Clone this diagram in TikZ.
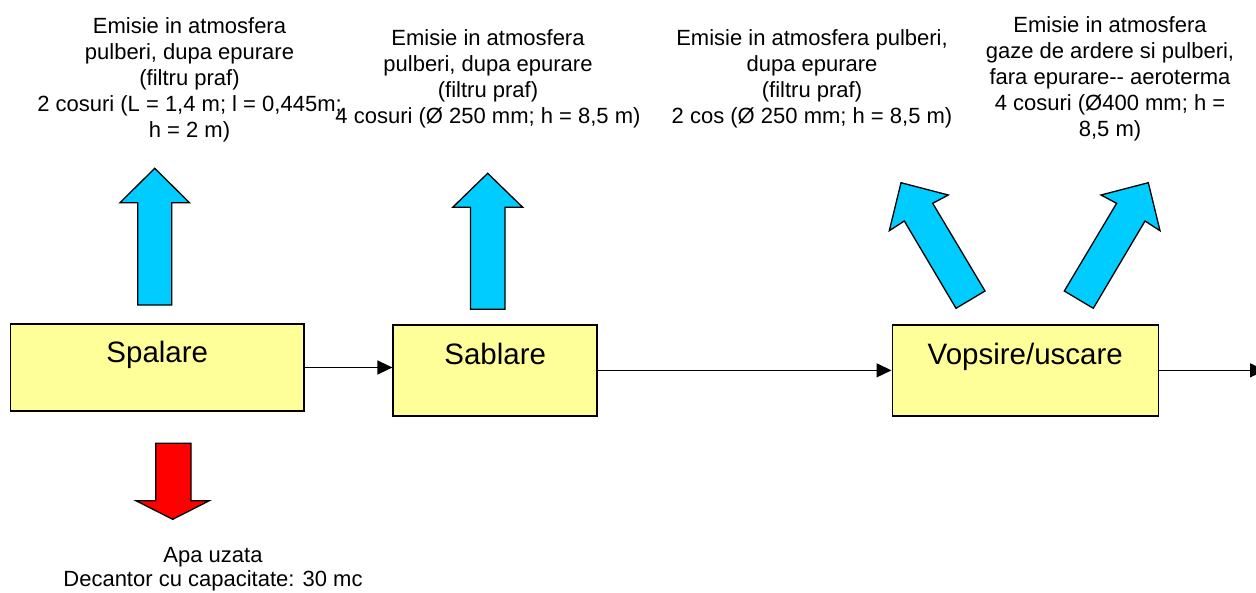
\documentclass[tikz,border=0pt]{standalone}
\usepackage{fontspec}
\setmainfont{Liberation Sans}
\usetikzlibrary{arrows.meta}
\definecolor{boxyellow}{HTML}{FFFF99}
\definecolor{flowcyan}{HTML}{00CCFF}
\definecolor{flowred}{HTML}{FF0000}
\begin{document}
\begin{tikzpicture}[x=1pt,y=-1pt,
  procbox/.style={draw=black, line width=1.6pt, fill=boxyellow, inner sep=0pt,
    font=\fontsize{29.5}{34}\selectfont, text height=21pt, text depth=32pt},
  emis/.style={align=center, inner sep=0pt, anchor=north, font=\fontsize{22}{26}\selectfont},
  conn/.style={draw=black, line width=1.4pt, -{Triangle[length=15pt,width=14pt]}},
  blockcyan/.style={draw=black, line width=1.3pt, fill=flowcyan, line join=miter},
  blockred/.style={draw=black, line width=1.3pt, fill=flowred, line join=miter}
]
\useasboundingbox (0,0) rectangle (1256,592);

% process boxes
\node[procbox, minimum width=293.5pt, minimum height=87pt] (spal) at (157.3,367.5) {Spalare};
\node[procbox, minimum width=204pt, minimum height=90.7pt] (sabl) at (495.2,370.35) {Sablare};
\node[procbox, minimum width=266pt, minimum height=90.7pt] (vops) at (1025.3,370.35) {Vopsire/uscare};
\coordinate (out) at (1265,370.35);

% connectors
\draw[conn] (spal.east) -- (spal.east -| sabl.west);
\draw[conn] (sabl.east) -- (vops.west);
\draw[conn] (vops.east) -- (out);

% emission texts
\node[emis] (t1) at (189.5,17) {Emisie in atmosfera\\pulberi, dupa epurare\\(filtru praf)\\2 cosuri (L = 1,4 m; l = 0,445m;\\h = 2 m)};
\node[emis] (t2) at (488,29.5) {Emisie in atmosfera\\pulberi, dupa epurare\\(filtru praf)\\4 cosuri (Ø 250 mm; h = 8,5 m)};
\node[emis] (t3) at (812,29.5) {Emisie in atmosfera pulberi,\\dupa epurare\\(filtru praf)\\2 cos (Ø 250 mm; h = 8,5 m)};
\node[emis] (t4) at (1110,16.5) {Emisie in atmosfera\\gaze de ardere si pulberi,\\fara epurare-{}- aeroterma\\4 cosuri (Ø400 mm; h =\\8,5 m)};
\node[emis, font=\fontsize{22}{24}\selectfont] (t5) at (213,547.3) {Apa uzata\\Decantor cu capacitate: 30 mc};

% block arrows up
\draw[blockcyan] (154.7,168.3) -- (189.5,202.7) -- (171.7,202.7) -- (171.7,305) -- (137.7,305) -- (137.7,202.7) -- (120,202.7) -- cycle;
\draw[blockcyan] (487.7,173.3) -- (522.7,207.3) -- (505,207.3) -- (505,309.3) -- (470.5,309.3) -- (470.5,207.3) -- (452.7,207.3) -- cycle;
% slanted arrows
\draw[blockcyan] (901,182.7) -- (948.3,195) -- (932.7,203.3) -- (985,291) -- (956,308.3) -- (904.3,221) -- (889.3,230.7) -- cycle;
\draw[blockcyan] (1148.3,182.7) -- (1101,195) -- (1116.6,203.3) -- (1064.3,291) -- (1093.3,308.3) -- (1145,221) -- (1160,230.7) -- cycle;
% red arrow down
\draw[blockred] (172.7,519.3) -- (209.3,500.7) -- (191,500.7) -- (191,443.3) -- (155.7,443.3) -- (155.7,500.7) -- (136,500.7) -- cycle;
\end{tikzpicture}
\end{document}
